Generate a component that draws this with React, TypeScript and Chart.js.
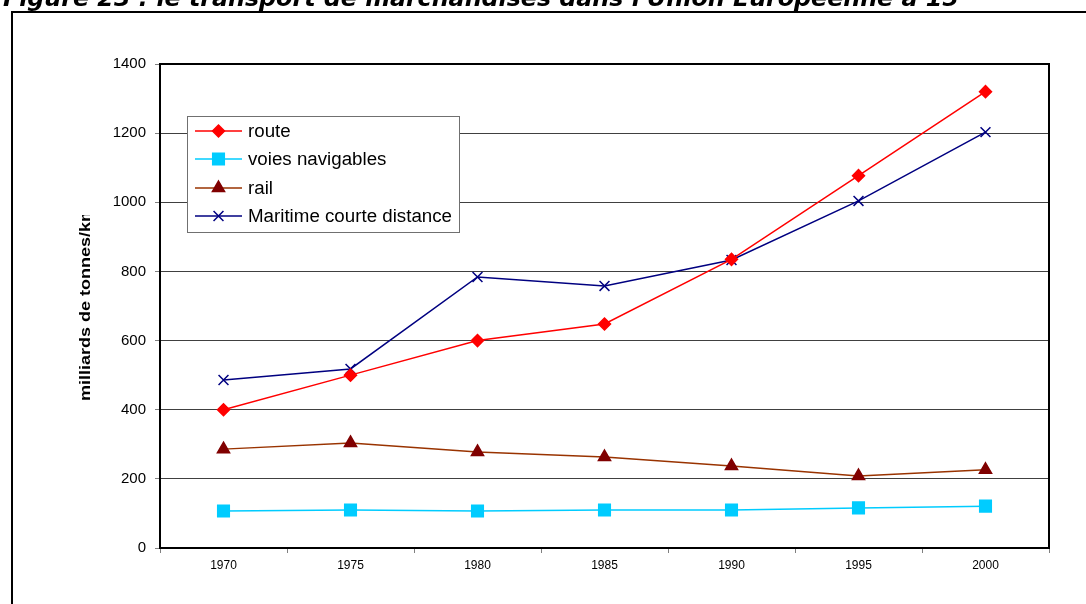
import React, { useEffect, useRef } from "react";
import { Chart, registerables } from "chart.js";
import { drawPoint } from "chart.js/helpers";

Chart.register(...registerables);

// Tonnage transported by mode, EU-15 (milliards de tonnes/km)
const years = ["1970", "1975", "1980", "1985", "1990", "1995", "2000"];
const route = [400, 500, 600, 648, 835, 1077, 1320];
const voiesNavigables = [107, 110, 107, 110, 110, 116, 121];
const rail = [286, 304, 278, 263, 237, 208, 226];
const maritime = [486, 518, 784, 758, 833, 1004, 1203];

const yMin = 0;
const yMax = 1400;
const yStep = 200;

const figureTitle = "Figure 23 : le transport de marchandises dans l'Union Européenne à 15";
const yAxisTitle = "milliards de tonnes/km";

const W = 1086;
const H = 604;

type Series = {
  label: string;
  data: number[];
  line: string;
  fill: string;
  stroke: string;
  style: "rectRot" | "rect" | "triangle" | "crossRot";
  radius: number;
};

const series: Series[] = [
  { label: "route", data: route, line: "#FF0000", fill: "#FF0000", stroke: "#FF0000", style: "rectRot", radius: 6 },
  { label: "voies navigables", data: voiesNavigables, line: "#00CCFF", fill: "#00CCFF", stroke: "#00CCFF", style: "rect", radius: 8.2 },
  { label: "rail", data: rail, line: "#993300", fill: "#800000", stroke: "#800000", style: "triangle", radius: 7 },
  { label: "Maritime courte distance", data: maritime, line: "#000080", fill: "#000080", stroke: "#000080", style: "crossRot", radius: 7 },
];

// Outer figure frame, cropped caption and y-axis caption
const decorations = {
  id: "decorations",
  beforeDraw(chart: Chart) {
    const ctx = chart.ctx;
    ctx.save();
    ctx.fillStyle = "#ffffff";
    ctx.fillRect(0, 0, W, H);

    // frame
    ctx.strokeStyle = "#000000";
    ctx.lineWidth = 2;
    ctx.beginPath();
    ctx.moveTo(12, H + 10);
    ctx.lineTo(12, 12);
    ctx.lineTo(W + 10, 12);
    ctx.stroke();

    // caption
    ctx.fillStyle = "#000000";
    ctx.font = "italic bold 20px 'DejaVu Sans'";
    const w20 = ctx.measureText(figureTitle).width;
    const size = (20 * 956) / w20;
    ctx.font = `italic bold ${size.toFixed(2)}px 'DejaVu Sans'`;
    ctx.textAlign = "left";
    ctx.textBaseline = "alphabetic";
    ctx.fillText(figureTitle, 3, 6);
    ctx.restore();

    // y-axis caption, clipped at its upper end
    ctx.save();
    ctx.beginPath();
    ctx.rect(0, 215, 150, 300);
    ctx.clip();
    ctx.translate(90, 401);
    ctx.rotate(-Math.PI / 2);
    ctx.scale(1.2, 1);
    ctx.font = "bold 15px 'Liberation Sans', Arial";
    ctx.fillStyle = "#000000";
    ctx.textAlign = "left";
    ctx.textBaseline = "alphabetic";
    ctx.fillText(yAxisTitle, 0, 0);
    ctx.restore();
  },
  afterDatasetsDraw(chart: Chart) {
    const ctx = chart.ctx;
    const a = chart.chartArea;
    ctx.save();
    // plot border
    ctx.strokeStyle = "#000000";
    ctx.lineWidth = 2;
    ctx.strokeRect(a.left, a.top, a.right - a.left, a.bottom - a.top);

    // legend box
    const bx = 187, by = 116, bw = 272, bh = 116;
    ctx.fillStyle = "#ffffff";
    ctx.fillRect(bx, by, bw, bh);
    ctx.strokeStyle = "#707070";
    ctx.lineWidth = 1;
    ctx.strokeRect(bx + 0.5, by + 0.5, bw, bh);

    const rows = [131, 159, 188, 216];
    ctx.font = "18px 'Liberation Sans', Arial";
    ctx.textBaseline = "middle";
    ctx.textAlign = "left";
    const longest = ctx.measureText(series[3].label).width;
    const sx = 204 / longest;
    series.forEach((s, i) => {
      const y = rows[i];
      ctx.strokeStyle = s.line;
      ctx.lineWidth = 1.5;
      ctx.beginPath();
      ctx.moveTo(195, y);
      ctx.lineTo(242, y);
      ctx.stroke();
      ctx.fillStyle = s.fill;
      ctx.strokeStyle = s.stroke;
      ctx.lineWidth = 1.5;
      drawPoint(ctx, { pointStyle: s.style, radius: s.radius, rotation: 0, borderWidth: 1.5 } as any, 218.5, y);
      ctx.save();
      ctx.translate(248, y + 1);
      ctx.scale(sx, 1);
      ctx.fillStyle = "#000000";
      ctx.fillText(s.label, 0, 0);
      ctx.restore();
    });
    ctx.restore();
  },
};

export default function App() {
  const ref = useRef<HTMLCanvasElement>(null);

  useEffect(() => {
    if (!ref.current) return;
    const chart = new Chart(ref.current, {
      type: "line",
      data: {
        labels: years,
        datasets: series.map((s) => ({
          label: s.label,
          data: s.data,
          borderColor: s.line,
          borderWidth: 1.5,
          backgroundColor: s.fill,
          pointStyle: s.style,
          pointRadius: s.radius,
          pointBackgroundColor: s.fill,
          pointBorderColor: s.stroke,
          pointBorderWidth: 1.5,
          tension: 0,
          fill: false,
        })),
      },
      options: {
        responsive: false,
        devicePixelRatio: 1,
        animation: false,
        events: [],
        layout: { padding: { left: 0, top: 64, right: 37, bottom: 26 } },
        plugins: {
          legend: { display: false },
          title: { display: false },
          tooltip: { enabled: false },
        },
        scales: {
          x: {
            type: "category",
            offset: true,
            afterFit: (scale: any) => {
              scale.height = 30;
            },
            grid: {
              display: true,
              offset: true,
              drawOnChartArea: false,
              drawTicks: true,
              tickLength: 5,
              tickColor: "#808080",
            },
            border: { display: true, color: "#000000", width: 2 },
            ticks: {
              autoSkip: false,
              maxRotation: 0,
              padding: 5,
              color: "#000000",
              font: { family: "'Liberation Sans', Arial", size: 12 },
            },
          },
          y: {
            min: yMin,
            max: yMax,
            afterFit: (scale: any) => {
              scale.width = 160;
            },
            grid: {
              color: "#404040",
              lineWidth: 1,
              drawTicks: true,
              tickLength: 5,
              tickColor: "#808080",
            },
            border: { display: true, color: "#000000", width: 2 },
            ticks: {
              stepSize: yStep,
              padding: 9,
              color: "#000000",
              font: { family: "'Liberation Sans', Arial", size: 15 },
              callback: (v: any) => String(v),
            },
          },
        },
      },
      plugins: [decorations],
    });
    return () => chart.destroy();
  }, []);

  return (
    <div style={{ position: "absolute", left: 0, top: 0, width: W, height: H }}>
      <canvas ref={ref} width={W} height={H} style={{ display: "block", width: W, height: H }} />
    </div>
  );
}
